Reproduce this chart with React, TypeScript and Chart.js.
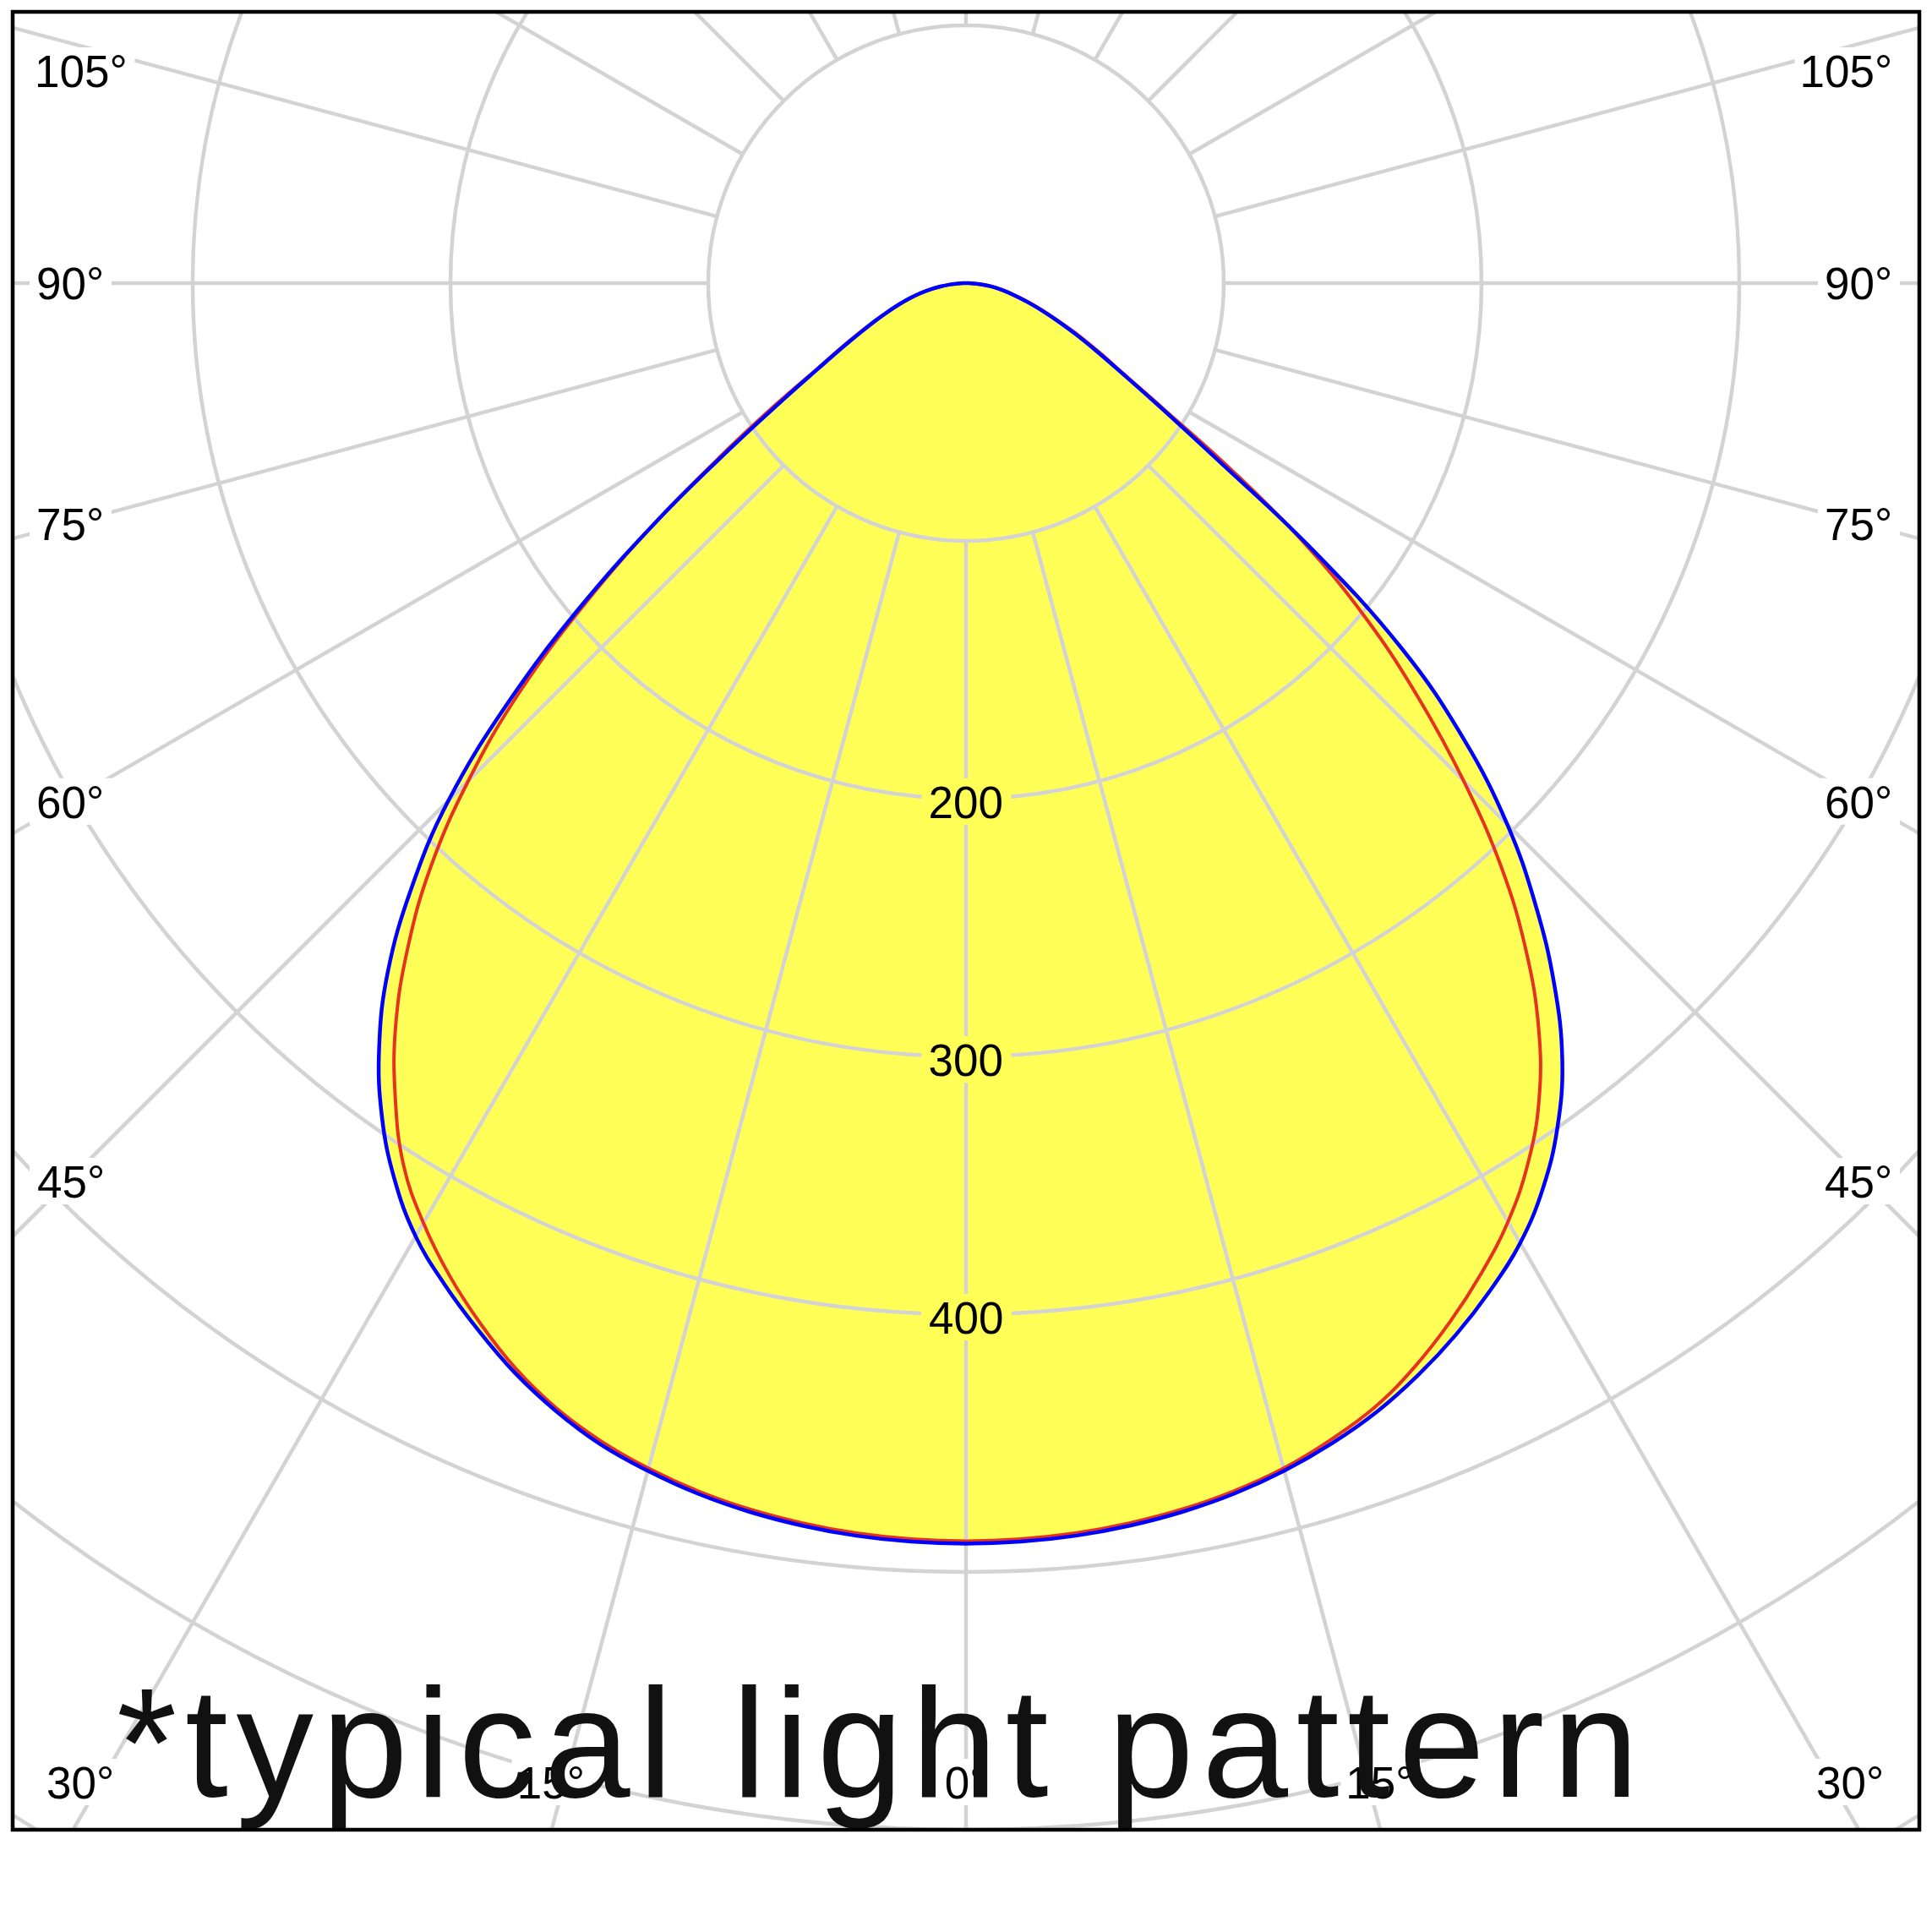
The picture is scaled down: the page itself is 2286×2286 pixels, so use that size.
import React, { useEffect, useRef } from 'react';
import { Chart, registerables } from 'chart.js';

Chart.register(...registerables);

// Vertical angle gamma (degrees from nadir) for every listed intensity.
const gammaDeg = [
  0, 2.5, 5, 7.5, 10, 12.5, 15, 17.5, 20, 22.5, 25, 27.5, 30, 32.5, 35, 37.5, 40, 42.5, 45,
  47.5, 50, 52.5, 55, 57.5, 60, 62.5, 65, 67.5, 70, 72.5, 75, 77.5, 80, 82.5, 85, 87.5, 90,
];

// Luminous intensity of the blue C-plane, left and right half.
const bluePlaneLeft = [
  489, 488.7, 487.8, 486.2, 484, 481, 477, 472.2, 465.5, 457.5, 448, 438, 427, 412.5, 395, 374,
  349, 318.5, 284, 241, 195, 150, 111, 84, 66, 54, 45, 38, 32, 27, 22.5, 18.2, 14.2, 10, 6.2, 3, 0,
];
const bluePlaneRight = [
  489, 488.7, 487.8, 486.2, 484, 481, 477, 472, 466, 458.5, 450, 440.5, 430, 416.5, 400, 380,
  355, 327, 297, 262, 221, 168, 118, 89, 70, 57, 47, 38.5, 31.6, 25.8, 20.8, 16.8, 13.3, 9.8, 6.3,
  3, 0,
];

// Luminous intensity of the red C-plane, left and right half.
const redPlaneLeft = [
  488, 487.7, 486.8, 485.2, 483, 480, 476, 471, 464.5, 456, 445.5, 434, 421, 406, 386, 363.5,
  337, 307.5, 273, 235, 192, 150, 114, 87, 67, 55, 45.5, 38, 32, 27, 22.3, 18, 14, 10, 6.1, 3, 0,
];
const redPlaneRight = [
  488, 487.7, 486.8, 485.2, 483, 480, 476, 470.5, 464, 455, 444.5, 433, 420.5, 405.5, 387.5, 365,
  338, 307.5, 273, 238, 203, 165, 124, 91, 71, 58.5, 48.5, 39.5, 32.5, 26.5, 21.3, 17, 13.5, 10,
  6.3, 3, 0,
];

// Polar grid: intensity rings, spoke spacing and the printed tick labels.
const ringValues = [100, 200, 300, 400, 500, 600, 700, 800];
const ringTickLabels = [200, 300, 400];
const spokeStepDeg = 15;
const spokeStartValue = 100;
const angleTickLabels = [0, 15, 30, 45, 60, 75, 90, 105];
const caption = '*typical light pattern';

const SIZE = 2286;
const FRAME = { left: 15, top: 14, right: 2271, bottom: 2165 };
const ORIGIN = { x: 1143, y: 335 };
const PX_PER_UNIT = 3.05;

const GRID_COLOR = '#d3d3d3';
const FILL_COLOR = '#ffff58';
const BLUE = '#0000ff';
const RED = '#e6321e';
const LABEL_FONT = '53px "Liberation Sans", Arial, sans-serif';
const CAPTION_FONT = '183px "Liberation Sans", Arial, sans-serif';
const CURVE_TENSION = 0.4;

function toXY(gamma: number, value: number, side: number) {
  const a = (gamma * Math.PI) / 180;
  return { x: side * value * Math.sin(a), y: -value * Math.cos(a) };
}

// Closed outline: left half from 90° down to nadir, then right half back up to 90°.
function outline(left: number[], right: number[]) {
  const pts: { x: number; y: number }[] = [];
  for (let i = gammaDeg.length - 1; i >= 0; i--) pts.push(toXY(gammaDeg[i], left[i], -1));
  for (let i = 1; i < gammaDeg.length; i++) pts.push(toXY(gammaDeg[i], right[i], 1));
  return pts;
}

type Box = { x: number; y: number; w: number; h: number };
type Label = { text: string; x: number; baseline: number; box: Box };

function layoutLabels(chart: any): Label[] {
  const ctx: CanvasRenderingContext2D = chart.ctx;
  const area = chart.chartArea;
  const xs = chart.scales.x;
  const ys = chart.scales.y;
  const cx = xs.getPixelForValue(0);
  const cy = ys.getPixelForValue(0);
  ctx.save();
  ctx.font = LABEL_FONT;
  ctx.textAlign = 'left';
  ctx.textBaseline = 'alphabetic';
  const capH = ctx.measureText('0').actualBoundingBoxAscent;
  const labels: Label[] = [];
  const inkWidth = (t: string) => {
    const m = ctx.measureText(t);
    return m.actualBoundingBoxLeft + m.actualBoundingBoxRight;
  };
  const place = (text: string, inkLeft: number, capMid: number) => {
    const m = ctx.measureText(text);
    const w = m.actualBoundingBoxLeft + m.actualBoundingBoxRight;
    labels.push({
      text,
      x: inkLeft + m.actualBoundingBoxLeft,
      baseline: capMid + capH / 2,
      box: { x: inkLeft - 10, y: capMid - 28, w: w + 21, h: 55 },
    });
  };

  for (const a of angleTickLabels) {
    const sides = a === 0 ? [1] : [-1, 1];
    for (const side of sides) {
      const text = `${a}°`;
      const w = inkWidth(text);
      const rad = (a * Math.PI) / 180;
      const dx = side * Math.sin(rad);
      const dy = Math.cos(rad);
      let sideY = Infinity;
      if (Math.abs(dx) > 1e-9) {
        const anchorX = side < 0 ? area.left + 65 : area.right - 65;
        sideY = cy + ((anchorX - cx) / dx) * dy;
      }
      const bottomMid = area.bottom - 56;
      if (sideY <= bottomMid) {
        const capMid = Math.max(sideY, area.top + 70);
        const inkLeft = side < 0 ? area.left + 30 : area.right - 34 - w;
        place(text, inkLeft, capMid);
      } else {
        let mid = cx + dx * ((area.bottom - cy) / dy);
        mid = Math.min(Math.max(mid, area.left + 80), area.right - 82);
        place(text, mid - w / 2, bottomMid);
      }
    }
  }

  for (const v of ringTickLabels) {
    const text = String(v);
    const w = inkWidth(text);
    const r = xs.getPixelForValue(v) - cx;
    place(text, cx - w / 2, cy + r + 4);
  }
  ctx.restore();
  return labels;
}

const FILL_INDEX = 2;

const polarDecor = {
  id: 'polarDecor',
  beforeDraw(chart: any) {
    const ctx: CanvasRenderingContext2D = chart.ctx;
    ctx.save();
    ctx.fillStyle = '#ffffff';
    ctx.fillRect(0, 0, chart.width, chart.height);
    ctx.restore();
  },
  // Grid goes on top of the yellow area but under the two curves.
  afterDatasetDraw(chart: any, args: any) {
    if (args.index !== FILL_INDEX) return;
    const ctx: CanvasRenderingContext2D = chart.ctx;
    const area = chart.chartArea;
    const xs = chart.scales.x;
    const cx = xs.getPixelForValue(0);
    const cy = chart.scales.y.getPixelForValue(0);
    const rpx = (v: number) => xs.getPixelForValue(v) - cx;
    const labels = layoutLabels(chart);

    ctx.save();
    ctx.beginPath();
    ctx.rect(area.left, area.top, area.right - area.left, area.bottom - area.top);
    for (const l of labels) ctx.rect(l.box.x, l.box.y, l.box.w, l.box.h);
    ctx.clip('evenodd');
    ctx.strokeStyle = GRID_COLOR;
    ctx.lineWidth = 4.5;
    for (const v of ringValues) {
      ctx.beginPath();
      ctx.arc(cx, cy, rpx(v), 0, Math.PI * 2);
      ctx.stroke();
    }
    const inner = rpx(spokeStartValue);
    const outer = rpx(ringValues[ringValues.length - 1]);
    for (let a = 0; a < 360; a += spokeStepDeg) {
      const rad = (a * Math.PI) / 180;
      const sx = Math.sin(rad);
      const sy = Math.cos(rad);
      ctx.beginPath();
      ctx.moveTo(cx + sx * inner, cy + sy * inner);
      ctx.lineTo(cx + sx * outer, cy + sy * outer);
      ctx.stroke();
    }
    ctx.restore();
  },
  afterDatasetsDraw(chart: any) {
    const ctx: CanvasRenderingContext2D = chart.ctx;
    const area = chart.chartArea;
    const labels = layoutLabels(chart);

    ctx.save();
    ctx.font = LABEL_FONT;
    ctx.textAlign = 'left';
    ctx.textBaseline = 'alphabetic';
    ctx.fillStyle = '#000000';
    for (const l of labels) ctx.fillText(l.text, l.x, l.baseline);
    ctx.restore();

    // Caption across the bottom of the frame.
    ctx.save();
    ctx.font = CAPTION_FONT;
    ctx.textAlign = 'left';
    ctx.textBaseline = 'alphabetic';
    ctx.fillStyle = '#111111';
    const m0 = ctx.measureText(caption);
    const ink0 = m0.actualBoundingBoxLeft + m0.actualBoundingBoxRight;
    const targetWidth = 1787;
    const spacing = (targetWidth - ink0) / (caption.length - 1);
    (ctx as any).letterSpacing = `${spacing}px`;
    ctx.fillText(caption, area.left + 125 + m0.actualBoundingBoxLeft, area.bottom - 39);
    ctx.restore();

    // Frame
    ctx.save();
    ctx.strokeStyle = '#000000';
    ctx.lineWidth = 4.5;
    ctx.strokeRect(area.left, area.top, area.right - area.left, area.bottom - area.top);
    ctx.restore();
  },
};

export default function App() {
  const canvasRef = useRef<HTMLCanvasElement | null>(null);

  useEffect(() => {
    const canvas = canvasRef.current;
    if (!canvas) return;
    const blue = outline(bluePlaneLeft, bluePlaneRight);
    const red = outline(redPlaneLeft, redPlaneRight);
    const chart = new Chart(canvas, {
      type: 'scatter',
      data: {
        datasets: [
          {
            label: 'blue plane',
            data: blue,
            showLine: true,
            borderColor: BLUE,
            borderWidth: 4.5,
            pointRadius: 0,
            tension: CURVE_TENSION,
            fill: false,
          },
          {
            label: 'red plane',
            data: red,
            showLine: true,
            borderColor: RED,
            borderWidth: 4,
            pointRadius: 0,
            tension: CURVE_TENSION,
            fill: false,
          },
          {
            label: 'area',
            data: blue,
            showLine: true,
            borderWidth: 0,
            borderColor: 'rgba(0,0,0,0)',
            backgroundColor: FILL_COLOR,
            pointRadius: 0,
            tension: CURVE_TENSION,
            fill: 'shape',
          },
        ],
      } as any,
      options: {
        animation: false,
        responsive: false,
        maintainAspectRatio: false,
        devicePixelRatio: 1,
        layout: {
          padding: {
            left: FRAME.left,
            top: FRAME.top,
            right: SIZE - FRAME.right,
            bottom: SIZE - FRAME.bottom,
          },
        },
        scales: {
          x: {
            type: 'linear',
            display: false,
            bounds: 'data',
            min: -(ORIGIN.x - FRAME.left) / PX_PER_UNIT,
            max: (FRAME.right - ORIGIN.x) / PX_PER_UNIT,
          },
          y: {
            type: 'linear',
            display: false,
            bounds: 'data',
            min: -(FRAME.bottom - ORIGIN.y) / PX_PER_UNIT,
            max: (ORIGIN.y - FRAME.top) / PX_PER_UNIT,
          },
        },
        plugins: {
          legend: { display: false },
          tooltip: { enabled: false },
        },
        events: [],
      } as any,
      plugins: [polarDecor],
    });
    return () => chart.destroy();
  }, []);

  return (
    <div
      style={{
        position: 'absolute',
        left: 0,
        top: 0,
        width: SIZE,
        height: SIZE,
        background: '#ffffff',
      }}
    >
      <canvas
        ref={canvasRef}
        width={SIZE}
        height={SIZE}
        style={{ display: 'block', width: SIZE, height: SIZE }}
      />
    </div>
  );
}
